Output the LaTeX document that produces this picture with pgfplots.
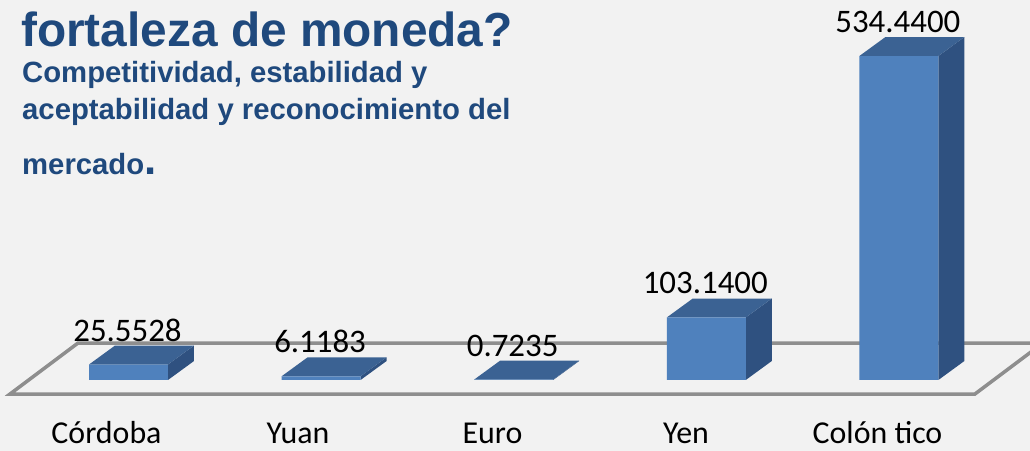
\documentclass[border=0pt]{standalone}
\usepackage{fontspec}
\setmainfont{Carlito}
\newfontfamily\arial{Liberation Sans}
\usepackage{pgfplots}
\usepackage{pgfplotstable}
\pgfplotsset{compat=1.18}
\definecolor{bg}{HTML}{F2F2F2}
\definecolor{front}{HTML}{4F81BD}
\definecolor{topc}{HTML}{3B6293}
\definecolor{sidec}{HTML}{2F5180}
\definecolor{floorc}{HTML}{8E8E8E}
\definecolor{titlec}{HTML}{1F497D}
\pgfplotstableread{
x y label
0 25.5528 25.5528
1 6.1183 6.1183
2 0.7235 0.7235
3 103.14 103.1400
4 534.44 534.4400
}\datatable
\begin{document}
\begin{tikzpicture}
\fill[bg] (0,0) rectangle (1030bp,451bp);
\begin{axis}[
  at={(0,0)}, anchor=south west,
  scale only axis, width=1030bp, height=451bp,
  xmin=-0.6672, xmax=4.6807, ymin=-117.12, ymax=626.85,
  hide axis, clip=true,
]
% floor
\addplot[draw=floorc, line width=3.5bp, line join=miter] coordinates {(-0.615,-23.1) (4.395,-23.1) (4.748,61.0) (-0.262,61.0)} --cycle;
% side faces
\addplot[fill=sidec, draw=none] coordinates {(0.205,0) (0.205,25.5528) (0.34,56.8528) (0.34,31.3)} --cycle;
\addplot[fill=sidec, draw=none] coordinates {(1.205,0) (1.205,6.1183) (1.34,37.4183) (1.34,31.3)} --cycle;
\addplot[fill=sidec, draw=none] coordinates {(2.205,0) (2.205,0.7235) (2.34,32.0235) (2.34,31.3)} --cycle;
\addplot[fill=sidec, draw=none] coordinates {(3.205,0) (3.205,103.14) (3.34,134.44) (3.34,31.3)} --cycle;
\addplot[fill=sidec, draw=none] coordinates {(4.205,0) (4.205,534.44) (4.34,565.74) (4.34,31.3)} --cycle;
% top faces
\addplot[fill=topc, draw=none] coordinates {(-0.205,25.5528) (0.205,25.5528) (0.34,56.8528) (-0.07,56.8528)} --cycle;
\addplot[fill=topc, draw=none] coordinates {(0.795,6.1183) (1.205,6.1183) (1.34,37.4183) (0.93,37.4183)} --cycle;
\addplot[fill=topc, draw=none] coordinates {(1.795,0.7235) (2.205,0.7235) (2.34,32.0235) (1.93,32.0235)} --cycle;
\addplot[fill=topc, draw=none] coordinates {(2.795,103.14) (3.205,103.14) (3.34,134.44) (2.93,134.44)} --cycle;
\addplot[fill=topc, draw=none] coordinates {(3.795,534.44) (4.205,534.44) (4.34,565.74) (3.93,565.74)} --cycle;
% front faces
\addplot[ybar, bar width=0.41, bar shift=0, fill=front, draw=none,
  point meta=explicit symbolic, nodes near coords,
  every node near coord/.append style={anchor=base, yshift=23.5bp, xshift=-1bp, text=black, font=\fontsize{33}{33}\selectfont}]
  table[x=x, y=y, meta=label] {\datatable};
\end{axis}
% titles
\node[anchor=base west, inner sep=0, text=titlec, font=\arial\bfseries\fontsize{48}{48}\selectfont] at (21bp,404bp) {fortaleza de moneda?};
\node[anchor=base west, inner sep=0, text=titlec, font=\arial\bfseries\fontsize{29.4}{29.4}\selectfont] at (22bp,368bp) {Competitividad, estabilidad y};
\node[anchor=base west, inner sep=0, text=titlec, font=\arial\bfseries\fontsize{29.4}{29.4}\selectfont] at (22bp,331bp) {aceptabilidad y reconocimiento del};
\node[anchor=base west, inner sep=0, text=titlec, font=\arial\bfseries\fontsize{29.4}{29.4}\selectfont] at (22bp,276bp) {mercado{\fontsize{44}{44}\selectfont.}};
% category labels
\foreach \px/\lab in {106.5/Córdoba, 298/Yuan, 492.5/Euro, 686/Yen, 877.5/Colón tico} {
  \node[anchor=base, inner sep=0, font=\fontsize{32}{32}\selectfont] at (\px bp,8bp) {\lab};
}
\pgfresetboundingbox
\path (0,0) rectangle (1030bp,451bp);
\end{tikzpicture}
\end{document}
